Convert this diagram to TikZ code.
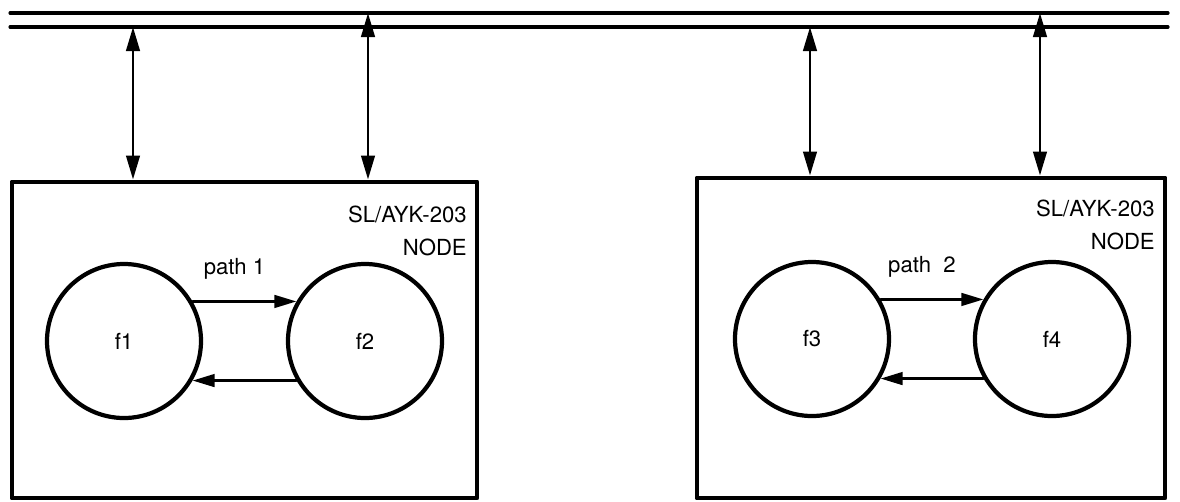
\documentclass[tikz,border=0pt]{standalone}
\usepackage{fontspec}
\setmainfont{TeX Gyre Heros}
\usetikzlibrary{positioning,calc,arrows.meta}

\begin{document}
\begin{tikzpicture}[>={Triangle[length=2.4mm,width=1.35mm]}, line cap=round, line join=round, font=\fontsize{6.3}{9.4}\selectfont,
    nodebox/.style={draw, line width=1.4pt, minimum width=4.65cm, minimum height=3.16cm, inner sep=0pt},
    func/.style={draw, circle, line width=1.2pt, minimum size=1.54cm, inner sep=0pt},
    link/.style={<->, line width=0.8pt},
    flow/.style={->, line width=0.8pt, >={Triangle[length=2.2mm,width=1.25mm]}},
    tag/.style={anchor=north east, align=right, inner sep=0pt}]
  \useasboundingbox (0,0) rectangle (11.80,5.01);
  % bus
  \coordinate (busA) at (0.10,4.88);
  \coordinate (busB) at (0.10,4.74);
  \draw[line width=0.9pt] (busA) -- ++(11.58,0);
  \draw[line width=0.9pt] (busB) -- ++(11.58,0);
  % the two nodes
  \node[nodebox] (nodeA) at (2.445,1.61) {};
  \node[nodebox, minimum width=4.68cm, minimum height=3.20cm] (nodeB) at (9.31,1.63) {};
  \node[tag] (tagA) at ($(nodeA.north east)+(-0.12,-0.26)$) {SL/AYK-203\\NODE};
  \node[tag] (tagB) at ($(nodeB.north east)+(-0.12,-0.24)$) {SL/AYK-203\\NODE};
  % taps onto the bus
  \coordinate (tapA) at (1.33,4.74);
  \coordinate (tapB) at (3.68,4.88);
  \coordinate (tapC) at (8.10,4.74);
  \coordinate (tapD) at (10.40,4.88);
  \draw[link] (tapA) -- (tapA |- nodeA.north);
  \draw[link] (tapB) -- (tapB |- nodeA.north);
  \draw[link] (tapC) -- (tapC |- nodeB.north);
  \draw[link] (tapD) -- (tapD |- nodeB.north);
  % functions
  \node[func] (f1) at (1.24,1.60) {f1};
  \node[func] (f2) at (3.65,1.60) {f2};
  \node[func] (f3) at (8.12,1.62) {f3};
  \node[func] (f4) at (10.52,1.62) {f4};
  \draw[flow] (f1.30) -- node[above=0.09cm, xshift=-0.1cm] (pathA) {path 1} (f2.150);
  \draw[flow] (f2.-150) -- (f1.-30);
  \draw[flow] (f3.30) -- node[above=0.09cm, xshift=-0.1cm] (pathB) {path\ \ 2} (f4.150);
  \draw[flow] (f4.-150) -- (f3.-30);
\end{tikzpicture}
\end{document}
